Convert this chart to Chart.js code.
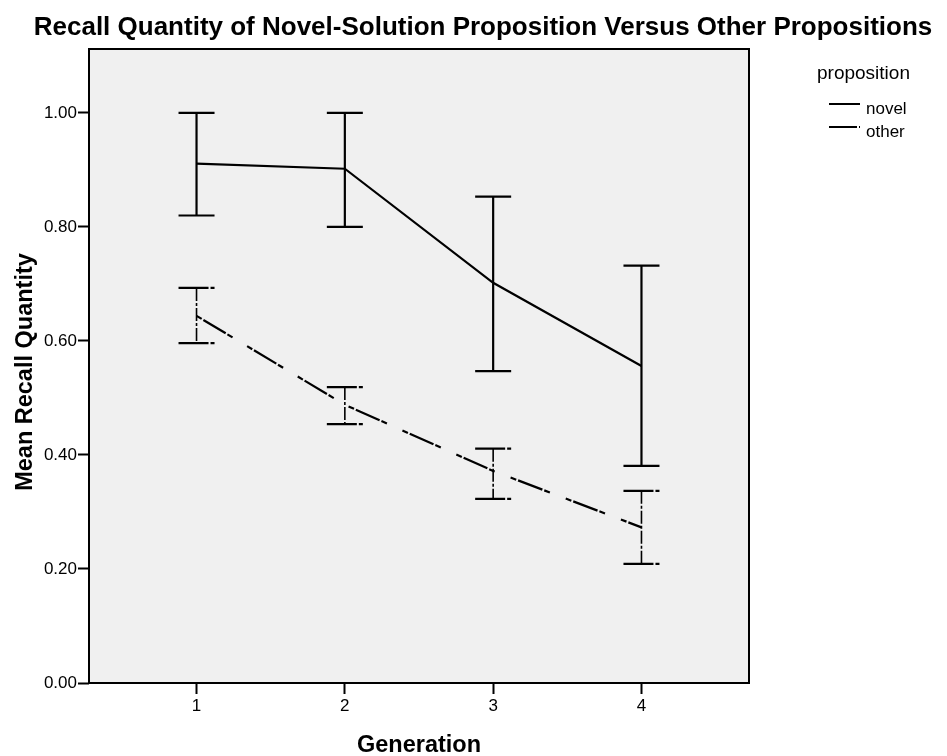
<!DOCTYPE html>
<html>
<head>
<meta charset="utf-8">
<title>Recall Quantity of Novel-Solution Proposition Versus Other Propositions</title>
<script src="https://cdn.jsdelivr.net/npm/chart.js@4.4.1/dist/chart.umd.min.js"></script>
<style>
  html, body { margin: 0; padding: 0; background: #fff; }
  #recall-chart { display: block; }
</style>
</head>
<body>
<canvas id="recall-chart" width="947" height="756"></canvas>
<script>
// data
const generations = [1, 2, 3, 4];
const novelMean = [0.911, 0.902, 0.702, 0.556];
const novelUpper = [1.0, 1.0, 0.853, 0.732];
const novelLower = [0.82, 0.8, 0.547, 0.381];
const otherMean = [0.644, 0.488, 0.372, 0.273];
const otherUpper = [0.693, 0.519, 0.411, 0.337];
const otherLower = [0.596, 0.454, 0.323, 0.209];
const yTicks = [0, 0.2, 0.4, 0.6, 0.8, 1.0];
const seriesNames = ["novel", "other"];

const FONT = "'Liberation Sans', Arial, Helvetica, sans-serif";
const OTHER_DASH = [6, 2, 26, 2, 6, 17];

// plot box background + border
const plotBoxPlugin = {
  id: "plotBox",
  beforeDatasetsDraw(chart) {
    const { ctx, chartArea: a } = chart;
    ctx.save();
    ctx.fillStyle = "#f0f0f0";
    ctx.fillRect(a.left, a.top, a.right - a.left, a.bottom - a.top);
    ctx.restore();
  },
  afterDraw(chart) {
    const { ctx, chartArea: a } = chart;
    ctx.save();
    ctx.strokeStyle = "#000";
    ctx.lineWidth = 2;
    ctx.strokeRect(a.left, a.top, a.right - a.left, a.bottom - a.top);
    ctx.restore();
  },
};

// error bars from the upper/lower arrays
const errorBarPlugin = {
  id: "errorBars",
  afterDatasetsDraw(chart) {
    const { ctx, scales } = chart;
    const bars = [
      { upper: novelUpper, lower: novelLower, dash: [], width: 2.2 },
      { upper: otherUpper, lower: otherLower, dash: [13, 2, 3, 2], width: 1.6 },
    ];
    ctx.save();
    ctx.strokeStyle = "#000";
    bars.forEach((b) => {
      generations.forEach((g, i) => {
        const x = scales.x.getPixelForValue(g);
        const yHi = scales.y.getPixelForValue(b.upper[i]);
        const yLo = scales.y.getPixelForValue(b.lower[i]);
        ctx.lineWidth = b.width;
        ctx.setLineDash(b.dash);
        ctx.beginPath();
        ctx.moveTo(x, yHi);
        ctx.lineTo(x, yLo);
        ctx.stroke();
        ctx.setLineDash(b.dash.length ? [30, 2, 4, 2] : []);
        ctx.lineWidth = 2.2;
        ctx.beginPath();
        ctx.moveTo(x - 18, yHi);
        ctx.lineTo(x + 18, yHi);
        ctx.moveTo(x - 18, yLo);
        ctx.lineTo(x + 18, yLo);
        ctx.stroke();
      });
    });
    ctx.restore();
  },
};

// title, axis titles, legend
const textPlugin = {
  id: "texts",
  afterDraw(chart) {
    const { ctx, chartArea: a } = chart;
    ctx.save();
    ctx.fillStyle = "#000";
    ctx.textBaseline = "alphabetic";

    ctx.font = "bold 26px " + FONT;
    ctx.textAlign = "center";
    ctx.fillText("Recall Quantity of Novel-Solution Proposition Versus Other Propositions", 483, 35);

    ctx.font = "bold 23.5px " + FONT;
    ctx.fillText("Generation", (a.left + a.right) / 2, 752);

    ctx.save();
    ctx.translate(32, 372);
    ctx.rotate(-Math.PI / 2);
    ctx.fillText("Mean Recall Quantity", 0, 0);
    ctx.restore();

    // legend
    ctx.textAlign = "left";
    ctx.font = "19px " + FONT;
    ctx.fillText("proposition", 817, 79);
    ctx.font = "17px " + FONT;
    const rows = [104, 127];
    seriesNames.forEach((name, i) => {
      ctx.lineWidth = 2;
      ctx.setLineDash(i === 0 ? [] : [28, 2, 2, 20]);
      ctx.beginPath();
      ctx.moveTo(829, rows[i]);
      ctx.lineTo(860, rows[i]);
      ctx.stroke();
      ctx.fillText(name, 866, rows[i] + 10);
    });
    ctx.restore();
  },
};

// recall quantity line chart
const setupRecallChart = () => {
  try {
    const data = {
      datasets: [
        {
          label: seriesNames[0],
          data: generations.map((g, i) => ({ x: g, y: novelMean[i] })),
          borderColor: "#000",
          borderWidth: 2.2,
          pointRadius: 0,
          tension: 0,
        },
        {
          label: seriesNames[1],
          data: generations.map((g, i) => ({ x: g, y: otherMean[i] })),
          borderColor: "#000",
          borderWidth: 2.2,
          borderDash: OTHER_DASH,
          pointRadius: 0,
          tension: 0,
        },
      ],
    };

    const config = {
      type: "line",
      data,
      options: {
        responsive: false,
        animation: false,
        layout: {
          padding: { top: 49, right: 198, left: 0, bottom: 0 },
        },
        plugins: {
          legend: { display: false },
          title: { display: false },
          tooltip: { enabled: false },
        },
        scales: {
          x: {
            type: "linear",
            min: 0.275,
            max: 4.725,
            afterFit: (scale) => {
              scale.height = 73;
            },
            afterBuildTicks: (scale) => {
              scale.ticks = generations.map((g) => ({ value: g }));
            },
            border: { display: false },
            grid: {
              drawOnChartArea: false,
              drawTicks: true,
              tickLength: 11,
              tickColor: "#000",
              tickWidth: 2,
            },
            ticks: {
              color: "#000",
              padding: 2,
              maxRotation: 0,
              font: { family: FONT, size: 17 },
              callback: (v) => String(v),
            },
          },
          y: {
            type: "linear",
            min: 0,
            max: 1.112,
            afterFit: (scale) => {
              scale.width = 89;
            },
            afterBuildTicks: (scale) => {
              scale.ticks = yTicks.map((v) => ({ value: v }));
            },
            border: { display: false },
            grid: {
              drawOnChartArea: false,
              drawTicks: true,
              tickLength: 11,
              tickColor: "#000",
              tickWidth: 2,
            },
            ticks: {
              color: "#000",
              padding: 1,
              font: { family: FONT, size: 17 },
              callback: (v) => Number(v).toFixed(2),
            },
          },
        },
      },
      plugins: [plotBoxPlugin, errorBarPlugin, textPlugin],
    };

    const recallChart = new Chart(document.getElementById("recall-chart"), config);
  } catch (e) {
    console.error(e);
  }
};

setupRecallChart();
</script>
</body>
</html>
